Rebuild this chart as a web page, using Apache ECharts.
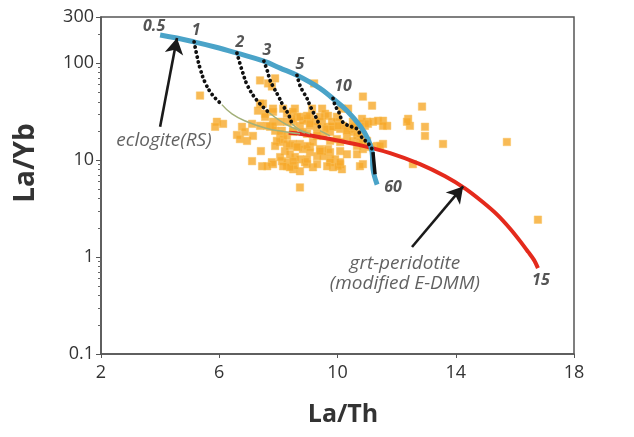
<!DOCTYPE html>
<html><head><meta charset="utf-8">
<script src="https://cdn.jsdelivr.net/npm/echarts@6/dist/echarts.min.js"></script>
<style>html,body{margin:0;padding:0;background:#fff}#c{width:634px;height:437px}</style>
</head><body><div id="c"></div>
<script>
// ---- axis ticks ----
const xTicks = [2, 6, 10, 14, 18];
const yTicks = [0.1, 1, 10, 100, 300];
const yMinorTicks = [0.2,0.3,0.4,0.5,0.6,0.7,0.8,0.9,2,3,4,5,6,7,8,9,20,30,40,50,60,70,80,90,200];

// ---- samples (La/Th, La/Yb) ----
const sampleLaTh = [5.35,5.92,6.13,5.86,6.77,7.11,7.38,7.72,7.89,6.6,6.70,6.87,6.94,7.14,7.41,7.11,7.45,7.78,7.82,
  7.38,7.65,7.89,7.78,7.38,7.31,7.55,7.82,8.16,8.29,8.56,7.55,7.82,8.06,7.82,8.29,8.12,8.50,8.63,9.21,
  8.06,8.16,8.29,8.06,8.39,8.73,9.07,9.41,7.95,7.89,8.50,8.97,9.31,9.51,9.75,9.98,10.09,10.32,10.52,10.09,10.32,10.52,10.59,
  8.50,8.73,8.97,9.07,9.31,9.48,9.65,9.75,9.85,8.83,9.07,9.24,9.48,9.58,9.68,9.98,10.02,9.14,8.97,9.41,9.81,10.19,10.49,10.76,11.0,10.36,10.15,
  8.50,8.66,8.83,8.97,9.17,9.07,9.31,9.48,9.51,9.68,9.75,9.92,9.75,10.09,10.15,9.85,10.02,8.12,8.29,8.29,8.50,8.73,9.17,8.97,8.22,8.39,8.56,8.73,8.90,8.56,8.39,8.16,
  10.86,11.17,10.83,10.93,11.03,11.20,11.37,11.54,11.68,11.54,12.39,12.45,12.35,12.86,12.96,12.96,13.57,12.55,11.54,11.34,11.10,10.86,10.66,10.86,10.52,10.66,10.76,11.44,10.86,
  15.73,16.78,8.73,
  7.48,7.82,7.62,8.46,8.73,9.07,8.50,8.83,9.31,9.58,9.81,10.02,10.32,10.52,10.76,11.0,8.29,8.63,9.41,9.75,10.09,10.32,8.06,8.50,8.97,9.31,9.65,10.09,7.62,10.76,10.66];
const sampleLaYb = [46.4,24.9,23.7,22.1,22.1,23.7,22.6,22.1,20.1,18.2,16.5,19.6,15.8,17.8,12.4,9.77,8.66,9.53,9.09,
  66.5,61.9,69.8,57.6,38.3,32.4,30.1,34.0,34.0,30.1,34.0,28.0,24.9,24.9,22.6,24.9,20.1,31.6,28.0,61.9,
  18.7,16.5,17.8,15.4,14.0,14.7,13.7,13.0,15.8,14.0,19.6,18.7,17.8,17.8,15.8,16.5,15.4,17.4,15.8,21.0,21.0,24.9,22.6,
  24.9,22.6,26.7,22.6,22.1,24.9,22.1,19.6,22.1,25.5,28.0,24.9,34.0,30.1,28.7,28.0,24.9,34.0,28.7,28.0,22.1,22.6,21.0,23.7,24.9,34.0,34.0,
  14.7,13.7,13.0,14.0,15.4,12.1,11.0,12.4,11.0,13.0,10.2,10.2,9.53,9.09,8.06,8.45,8.66,9.77,9.53,8.66,8.06,7.68,8.45,9.09,12.4,11.5,10.8,10.2,9.53,8.8,8.45,8.66,
  45.3,36.5,26.7,22.6,23.7,24.9,25.5,25.5,22.6,22.6,26.7,22.6,24.9,35.7,22.1,17.8,14.7,9.09,14.7,14.0,13.7,14.7,14.0,9.09,19.6,17.8,15.4,14.0,13.0,
  15.4,2.43,5.23,
  38.3,31.6,22.6,26.7,28.0,23.7,20.1,19.6,18.7,21.0,24.9,22.6,20.1,22.1,18.7,15.8,14.7,13.7,12.4,12.1,12.4,11.5,10.75,9.77,10.2,9.09,8.66,9.53,8.66,8.66,11.5];

// ---- model curves ----
const eclogiteLaTh = [4.0,4.57,5.15,5.86,6.60,7.51,8.06,8.63,9.41,9.85,10.32,10.76,11.03,11.17,11.2,11.34];
const eclogiteLaYb = [196,182,166,147,127,105,89,75,55,43,32.4,22.6,16.5,12.1,8.1,5.6];
const peridotiteLaTh = [8.35,8.73,9.75,10.76,11.78,12.79,13.64,14.31,14.89,15.40,15.84,16.17,16.45,16.65,16.78];
const peridotiteLaYb = [19.2,18.7,16.5,14.3,11.8,9.09,6.81,5.11,3.74,2.74,1.96,1.47,1.13,0.93,0.77];

// mixing curves: dotted part and thin part
const mix1DotLaTh = [5.15,5.25,5.35,5.52,5.76,6.09];
const mix1DotLaYb = [166,118,88.7,63.4,47.5,37.4];
const mix1ThinLaTh = [6.09,6.43,6.94,7.55,8.22,8.73];
const mix1ThinLaYb = [37.4,30.1,24.9,21.5,19.6,18.7];
const mix2DotLaTh = [6.60,6.77,6.97,7.28,7.65];
const mix2DotLaYb = [127,84.5,57.6,41.2,31.6];
const mix2ThinLaTh = [7.65,8.06,8.50,8.90];
const mix2ThinLaYb = [31.6,25.5,21.5,19.1];
const mix3DotLaTh = [7.51,7.62,7.72,7.82,7.99,8.16,8.33,8.46];
const mix3DotLaYb = [105,84.5,66.5,57.6,46.4,36.5,30.1,23.7];
const mix3ThinLaTh = [8.46,8.73,9.07];
const mix3ThinLaYb = [23.7,20.5,18.7];
const mix5DotLaTh = [8.63,8.73,8.83,8.97,9.07,9.17,9.34,9.41];
const mix5DotLaYb = [75,59,51.3,43.3,36.5,31.6,24.9,20.1];
const mix5ThinLaTh = [9.41,9.75];
const mix5ThinLaYb = [20.1,17.8];
const mix10DotLaTh = [9.85,9.92,10.02,10.09,10.15,10.25,10.49,10.66,10.76,10.86,11.0,11.17];
const mix10DotLaYb = [43.3,36.5,32.4,28.7,25.5,23.7,22.1,21.0,18.7,16.5,15.4,13.0];
const mix60LaTh = [11.2,11.27];
const mix60LaYb = [12.1,7.15];

// ---- curve labels ----
const curveLabels = ['0.5','1','2','3','5','10','60','15'];
const curveLabelLaTh = [4.0,5.15,6.60,7.51,8.63,9.85,11.34,16.78];
const curveLabelLaYb = [196,166,127,105,75,43,5.6,0.77];

// ---- annotations ----
const noteTexts = ['eclogite(RS)','grt-peridotite','(modified E-DMM)'];
const noteLaTh = [4.13,12.28,12.28];
const noteLaYb = [15.8,0.866,0.536];
const arrowFromLaTh = [4.0,12.52], arrowFromLaYb = [22.1,1.27];
const arrowToLaTh = [4.57,14.25], arrowToLaYb = [182,5.36];

const zip = (a,b) => a.map((v,i) => [v, b[i]]);
const labelOffsets = {'0.5':[-6,-8],'1':[2,-11],'2':[3,-11],'3':[3,-11],'5':[3,-11],'10':[10,-12],'60':[16,3],'15':[3,12]};

const FONT = 'Open Sans';
const chart = echarts.init(document.getElementById('c'), null, {renderer:'canvas'});

function dotted(name, xs, ys) {
  return {type:'line', name, data: zip(xs,ys), smooth:0.4, symbol:'none', z:5,
    lineStyle:{color:'#111', width:3.8, type:[0.1,5], cap:'round'}};
}
function thin(name, xs, ys) {
  return {type:'line', name, data: zip(xs,ys), smooth:0.5, symbol:'none', z:4,
    lineStyle:{color:'#a3b07a', width:1.5}};
}

const option = {
  animation:false,
  backgroundColor:'#fff',
  grid:{left:101, right:60, top:17, bottom:83, show:true, borderColor:'#555', borderWidth:1.5, outerBoundsMode:'none'},
  xAxis:{type:'value', min:2, max:18,
    axisLine:{show:true, onZero:false, lineStyle:{color:'#555', width:1.5}},
    splitLine:{show:false},
    axisTick:{show:true, inside:false, length:4, customValues:xTicks, lineStyle:{color:'#555'}},
    axisLabel:{customValues:xTicks, fontFamily:FONT, fontSize:18, color:'#333', margin:10}},
  yAxis:[
    {type:'log', min:0.1, max:300, logBase:10,
      axisLine:{show:true, lineStyle:{color:'#555', width:1.5}},
      splitLine:{show:false},
      axisTick:{show:true, length:5, customValues:yTicks, lineStyle:{color:'#555'}},
      axisLabel:{customValues:yTicks, fontFamily:FONT, fontSize:18, color:'#333', margin:7,
        formatter: v => String(+(+v).toPrecision(3))}},
    {type:'log', min:0.1, max:300, logBase:10, position:'left',
      axisLine:{show:false}, splitLine:{show:false},
      axisTick:{show:true, length:3, customValues:yMinorTicks, lineStyle:{color:'#666'}},
      axisLabel:{show:false}}
  ],
  graphic:[
    {type:'text', x:26, y:163, rotation:Math.PI/2,
      style:{text:'La/Yb', font:'bold 28px "Open Sans"', fill:'#333', align:'center', verticalAlign:'middle'}},
    {type:'text', x:343, y:415,
      style:{text:'La/Th', font:'bold 25px "Open Sans"', fill:'#333', align:'center', verticalAlign:'middle'}}
  ],
  series:[
    {type:'scatter', name:'samples', data: zip(sampleLaTh, sampleLaYb), symbol:'rect', symbolSize:7.5, z:3,
      itemStyle:{color:'#f6a92a', borderColor:'#f9c25e', borderWidth:0.6}},
    {type:'line', name:'grt-peridotite', data: zip(peridotiteLaTh, peridotiteLaYb), smooth:0.3, symbol:'none', z:4,
      lineStyle:{color:'#e42a1c', width:4}},
    {type:'line', name:'eclogite', data: zip(eclogiteLaTh, eclogiteLaYb), smooth:0.4, symbol:'none', z:4,
      lineStyle:{color:'#4aa3c8', width:5}},
    thin('mix1t', mix1ThinLaTh, mix1ThinLaYb),
    thin('mix2t', mix2ThinLaTh, mix2ThinLaYb),
    thin('mix3t', mix3ThinLaTh, mix3ThinLaYb),
    thin('mix5t', mix5ThinLaTh, mix5ThinLaYb),
    dotted('mix1', mix1DotLaTh, mix1DotLaYb),
    dotted('mix2', mix2DotLaTh, mix2DotLaYb),
    dotted('mix3', mix3DotLaTh, mix3DotLaYb),
    dotted('mix5', mix5DotLaTh, mix5DotLaYb),
    dotted('mix10', mix10DotLaTh, mix10DotLaYb),
    {type:'line', name:'mix60', data: zip(mix60LaTh, mix60LaYb), symbol:'none', z:5,
      lineStyle:{color:'#111', width:3.5}},
    {type:'scatter', name:'curveLabels', symbolSize:0, z:6, silent:true,
      data: curveLabels.map((t,i) => ({value:[curveLabelLaTh[i], curveLabelLaYb[i]],
        label:{show:true, position:'inside', formatter:t, offset:labelOffsets[t],
          fontFamily:FONT, fontStyle:'italic', fontWeight:'bold', fontSize:16, color:'#2b2b2b'}}))},
    {type:'scatter', name:'notes', symbolSize:0, z:6, silent:true,
      data: noteTexts.map((t,i) => ({value:[noteLaTh[i], noteLaYb[i]],
        label:{show:true, position:'inside', formatter:t,
          fontFamily:FONT, fontStyle:'italic', fontSize:19, color:'#3a3a3a'}})),
      markLine:{silent:true, symbol:['none','arrow'], symbolSize:[14,16], animation:false,
        label:{show:false},
        lineStyle:{color:'#1a1a1a', width:2.6, type:'solid'},
        data: arrowFromLaTh.map((x,i) => [{coord:[x, arrowFromLaYb[i]]},{coord:[arrowToLaTh[i], arrowToLaYb[i]]}])}}
  ]
};
chart.setOption(option);
</script></body></html>
